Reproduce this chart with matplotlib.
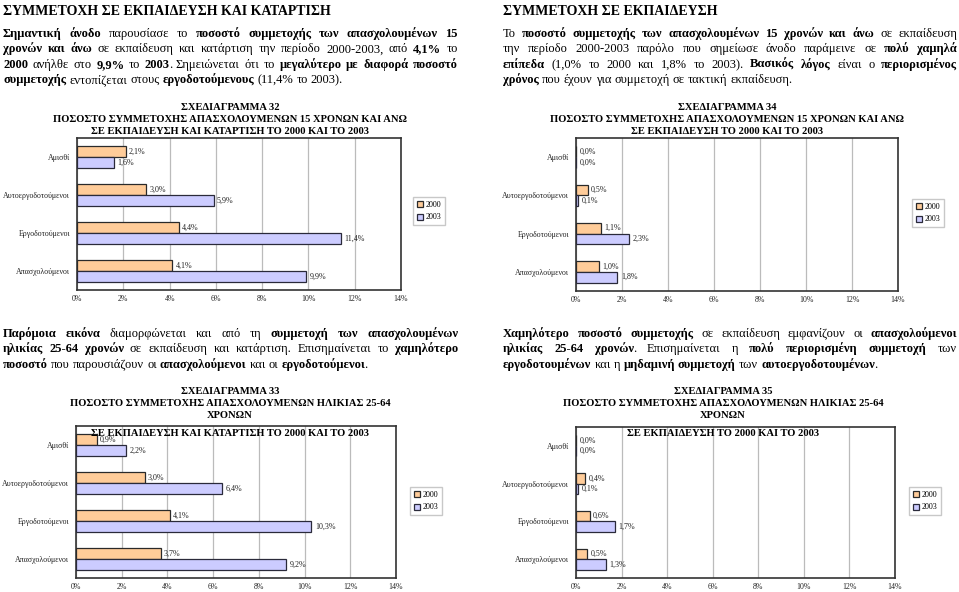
import re
import numpy as np
import matplotlib
matplotlib.use('Agg')
import matplotlib.pyplot as plt

W, H = 959, 592
plt.rcParams['font.family'] = ['Liberation Serif', 'DejaVu Serif']

categories = ['Αμισθί', 'Αυτοεργοδοτούμενοι', 'Εργοδοτούμενοι', 'Απασχολούμενοι']
years = ['2000', '2003']
x_ticks = [0, 2, 4, 6, 8, 10, 12, 14]

# ΣΧΕΔΙΑΓΡΑΜΜΑ 32 / 34 / 33 / 35, values in %
c32_2000 = [2.1, 3.0, 4.4, 4.1]
c32_2003 = [1.6, 5.9, 11.4, 9.9]
c34_2000 = [0.0, 0.5, 1.1, 1.0]
c34_2003 = [0.0, 0.1, 2.3, 1.8]
c33_2000 = [0.9, 3.0, 4.1, 3.7]
c33_2003 = [2.2, 6.4, 10.3, 9.2]
c35_2000 = [0.0, 0.4, 0.6, 0.5]
c35_2003 = [0.0, 0.1, 1.7, 1.3]

title32 = ['ΣΧΕΔΙΑΓΡΑΜΜΑ 32',
           'ΠΟΣΟΣΤΟ ΣΥΜΜΕΤΟΧΗΣ ΑΠΑΣΧΟΛΟΥΜΕΝΩΝ 15 ΧΡΟΝΩΝ ΚΑΙ ΑΝΩ',
           'ΣΕ ΕΚΠΑΙΔΕΥΣΗ ΚΑΙ ΚΑΤΑΡΤΙΣΗ ΤΟ 2000 ΚΑΙ ΤΟ 2003']
title34 = ['ΣΧΕΔΙΑΓΡΑΜΜΑ 34',
           'ΠΟΣΟΣΤΟ ΣΥΜΜΕΤΟΧΗΣ ΑΠΑΣΧΟΛΟΥΜΕΝΩΝ 15 ΧΡΟΝΩΝ ΚΑΙ ΑΝΩ',
           'ΣΕ ΕΚΠΑΙΔΕΥΣΗ ΤΟ 2000 ΚΑΙ ΤΟ 2003']
title33 = ['ΣΧΕΔΙΑΓΡΑΜΜΑ 33',
           'ΠΟΣΟΣΤΟ ΣΥΜΜΕΤΟΧΗΣ ΑΠΑΣΧΟΛΟΥΜΕΝΩΝ ΗΛΙΚΙΑΣ 25-64',
           'ΧΡΟΝΩΝ',
           'ΣΕ ΕΚΠΑΙΔΕΥΣΗ ΚΑΙ ΚΑΤΑΡΤΙΣΗ ΤΟ 2000 ΚΑΙ ΤΟ 2003']
title35 = ['ΣΧΕΔΙΑΓΡΑΜΜΑ 35',
           'ΠΟΣΟΣΤΟ ΣΥΜΜΕΤΟΧΗΣ ΑΠΑΣΧΟΛΟΥΜΕΝΩΝ ΗΛΙΚΙΑΣ 25-64',
           'ΧΡΟΝΩΝ',
           'ΣΕ ΕΚΠΑΙΔΕΥΣΗ ΤΟ 2000 ΚΑΙ ΤΟ 2003']

# paragraphs, ** marks bold runs; one string per printed line
para_left1 = [
    '**Σημαντική άνοδο** παρουσίασε το **ποσοστό συμμετοχής των απασχολουμένων 15**',
    '**χρονών και άνω** σε εκπαίδευση και κατάρτιση την περίοδο 2000-2003, από **4,1%** το',
    '**2000** ανήλθε στο **9,9%** το **2003**. Σημειώνεται ότι το **μεγαλύτερο με διαφορά ποσοστό**',
    '**συμμετοχής** εντοπίζεται στους **εργοδοτούμενους** (11,4% το 2003).',
]
para_right1 = [
    'Το **ποσοστό συμμετοχής των απασχολουμένων 15 χρονών και άνω** σε εκπαίδευση',
    'την περίοδο 2000-2003 παρόλο που σημείωσε άνοδο παράμεινε σε **πολύ χαμηλά**',
    '**επίπεδα** (1,0% το 2000 και 1,8% το 2003). **Βασικός λόγος** είναι ο **περιορισμένος**',
    '**χρόνος** που έχουν για συμμετοχή σε τακτική εκπαίδευση.',
]
para_left2 = [
    '**Παρόμοια εικόνα** διαμορφώνεται και από τη **συμμετοχή των απασχολουμένων**',
    '**ηλικίας 25-64 χρονών** σε εκπαίδευση και κατάρτιση. Επισημαίνεται το **χαμηλότερο**',
    '**ποσοστό** που παρουσιάζουν οι **απασχολούμενοι** και οι **εργοδοτούμενοι**.',
]
para_right2 = [
    '**Χαμηλότερο ποσοστό συμμετοχής** σε εκπαίδευση εμφανίζουν οι **απασχολούμενοι**',
    '**ηλικίας 25-64 χρονών**. Επισημαίνεται η **πολύ περιορισμένη συμμετοχή** των',
    '**εργοδοτουμένων** και η **μηδαμινή συμμετοχή** των **αυτοεργοδοτουμένων**.',
]

fig = plt.figure(figsize=(W / 100, H / 100), dpi=100)
fig.patch.set_facecolor('white')
renderer = fig.canvas.get_renderer()


def fx(x):
    return x / W


def fy(y):
    return 1 - y / H


def words_of(line):
    # split into words, each word a list of (text, bold) pieces
    parts = re.split(r'(\*\*)', line)
    bold = False
    words, cur = [], []
    for p in parts:
        if p == '**':
            bold = not bold
            continue
        chunks = p.split(' ')
        for i, c in enumerate(chunks):
            if i > 0 and cur:
                words.append(cur)
                cur = []
            if c:
                cur.append((c, bold))
    if cur:
        words.append(cur)
    return words


def text_line(x0, x1, y, line, size, justify):
    words = words_of(line)
    placed = []
    widths = []
    for w in words:
        ws = 0
        objs = []
        for txt, b in w:
            t = fig.text(0, fy(y), txt, fontsize=size, va='baseline', ha='left',
                         fontweight='bold' if b else 'normal', color='black')
            pw = t.get_window_extent(renderer).width - (1.0 if len(w) > 1 else 0)
            objs.append((t, pw))
            ws += pw
        placed.append(objs)
        widths.append(ws)
    sp = fig.text(0, 0, 'a a', fontsize=size).get_window_extent(renderer).width - \
        fig.text(0, 0, 'aa', fontsize=size).get_window_extent(renderer).width
    for t in fig.texts[-2:]:
        t.remove()
    if justify and len(words) > 1:
        gap = max((x1 - x0 - sum(widths)) / (len(words) - 1), sp * 0.6)
    else:
        gap = sp
    x = x0
    for objs, ws in zip(placed, widths):
        for t, pw in objs:
            t.set_x(fx(x))
            x += pw
        x += gap


def paragraph(x0, x1, y0, dy, lines, size=9.0):
    for i, line in enumerate(lines):
        text_line(x0, x1, y0 + i * dy, line, size, i < len(lines) - 1)


def chart(box, v2000, v2003, legend_xy, title, title_x, title_y0):
    l, t, r, b = box
    ax = fig.add_axes([fx(l), fy(b), (r - l) / W, (b - t) / H])
    y = np.arange(len(categories))
    h = 0.28
    b1 = ax.barh(y - h / 2, v2000, height=h, color='#FFCC99', edgecolor='#2a2a2a',
                 linewidth=0.9, label=years[0], zorder=3)
    b2 = ax.barh(y + h / 2, v2003, height=h, color='#CCCCFF', edgecolor='#2a2a3a',
                 linewidth=0.9, label=years[1], zorder=3)
    for bars, vals in ((b1, v2000), (b2, v2003)):
        for rect, v in zip(bars, vals):
            ax.annotate(f'{v:.1f}%'.replace('.', ','),
                        (v, rect.get_y() + rect.get_height() / 2),
                        xytext=(2.5, 0), textcoords='offset points',
                        va='center', ha='left', fontsize=5.8, color='#222222')
    ax.set_xlim(0, 14)
    ax.set_ylim(3.5, -0.5)
    ax.set_xticks(x_ticks)
    ax.set_xticklabels([f'{v}%' for v in x_ticks])
    ax.set_yticks(y)
    ax.set_yticklabels(categories)
    ax.tick_params(length=0, labelsize=5.7, colors='#222222')
    ax.tick_params(axis='x', pad=3.5)
    ax.tick_params(axis='y', pad=5)
    ax.grid(axis='x', color='#BBBBBB', linewidth=0.9, zorder=0)
    ax.set_axisbelow(True)
    for s in ax.spines.values():
        s.set_color('#333333')
        s.set_linewidth(1.2)
    ax.legend(loc='center', bbox_to_anchor=(fx(legend_xy[0]), fy(legend_xy[1])),
              bbox_transform=fig.transFigure, fontsize=5.8, frameon=True,
              fancybox=False, edgecolor='#BBBBBB', handlelength=0.75,
              handleheight=0.75, handletextpad=0.3, borderpad=0.45,
              labelspacing=0.6, borderaxespad=0)
    ys = [title_y0 + i * 12 for i in range(len(title))]
    if len(title) == 4:
        ys[3] = title_y0 + 41
    for line, yy in zip(title, ys):
        fig.text(fx(title_x), fy(yy), line, ha='center', va='baseline',
                 fontsize=7.6, fontweight='bold', color='black', zorder=5)
    return ax


# headings and paragraphs
fig.text(fx(3), fy(15), 'ΣΥΜΜΕΤΟΧΗ ΣΕ ΕΚΠΑΙΔΕΥΣΗ ΚΑΙ ΚΑΤΑΡΤΙΣΗ', fontsize=10,
         fontweight='bold', va='baseline')
fig.text(fx(503), fy(15), 'ΣΥΜΜΕΤΟΧΗ ΣΕ ΕΚΠΑΙΔΕΥΣΗ', fontsize=10,
         fontweight='bold', va='baseline')
paragraph(3, 458, 37, 15.4, para_left1)
paragraph(503, 957, 37, 15.4, para_right1)
paragraph(3, 458, 337, 15.4, para_left2)
paragraph(503, 957, 337, 15.4, para_right2)

chart((77, 138, 401, 290), c32_2000, c32_2003, (429, 211), title32, 230, 109.5)
chart((576, 138, 898, 291), c34_2000, c34_2003, (928, 213), title34, 727, 109.5)
chart((76, 426, 396, 578), c33_2000, c33_2003, (426, 501), title33, 230, 394.5)
chart((576, 427, 895, 578), c35_2000, c35_2003, (925, 501), title35, 723, 394.5)

fig.savefig('out.png', dpi=100)
